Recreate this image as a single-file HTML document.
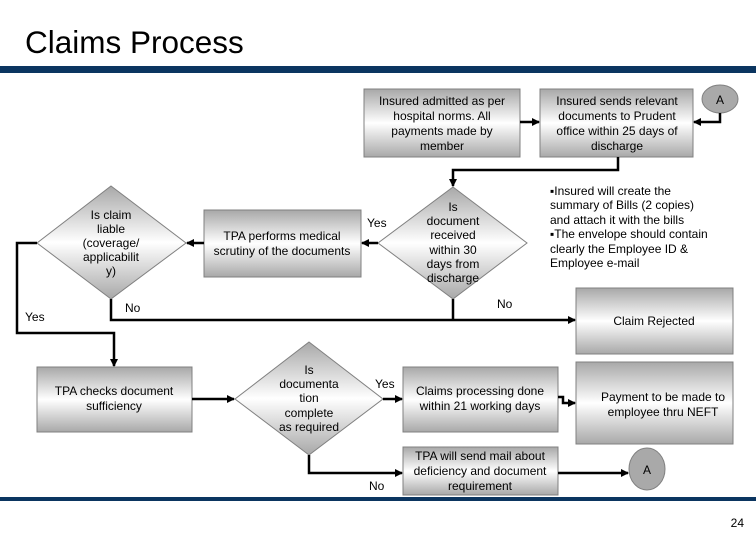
<!DOCTYPE html>
<html><head><meta charset="utf-8"><style>
body{margin:0;background:#fff}
svg{display:block}
text{font-family:"Liberation Sans",Arial,sans-serif;font-size:12px;fill:#000}
</style></head><body>
<svg width="756" height="540" viewBox="0 0 756 540" xmlns="http://www.w3.org/2000/svg">
<defs>
<linearGradient id="g" x1="0" y1="0" x2="0" y2="1">
<stop offset="0" stop-color="#a8a8a8"/><stop offset="0.5" stop-color="#ffffff"/><stop offset="1" stop-color="#a8a8a8"/>
</linearGradient>
<marker id="ah" markerWidth="8" markerHeight="8" refX="7" refY="4" orient="auto" markerUnits="userSpaceOnUse">
<path d="M0,0 L8,4 L0,8 z" fill="#000"/></marker>
</defs>
<text x="25" y="53" style="font-size:31.5px">Claims Process</text>
<rect x="0" y="66" width="756" height="7" fill="#0b3560"/>
<rect x="0" y="497" width="756" height="4" fill="#0b3560"/>
<text x="744" y="527" text-anchor="end">24</text>

<g stroke="#808080" stroke-width="1" fill="url(#g)">
<rect x="364" y="89" width="156" height="68"/>
<rect x="540" y="89" width="153" height="68"/>
<rect x="204" y="210" width="157" height="67"/>
<rect x="576" y="288" width="157" height="66"/>
<rect x="37" y="367" width="155" height="65"/>
<rect x="403" y="367" width="155" height="65"/>
<rect x="576" y="362" width="157" height="82"/>
<rect x="403" y="447" width="155" height="48"/>
<polygon points="111,186 186,243 111,299 37,243"/>
<polygon points="453,187 527,243 453,299 378,243"/>
<polygon points="309,342 383,399 309,455 235,399"/>
</g>
<g stroke="#808080" fill="#a9a9a9">
<ellipse cx="720" cy="99" rx="18" ry="14"/>
<ellipse cx="647" cy="469" rx="18" ry="21"/>
</g>

<g stroke="#000" stroke-width="2.5" fill="none" marker-end="url(#ah)">
<path d="M520,122 H539"/>
<path d="M720,113 V122 H694"/>
<path d="M618,157 V170 H453 V186"/>
<path d="M378,243 H362"/>
<path d="M204,243 H187"/>
<path d="M37,243 H17 V333 H114 V366"/>
<path d="M111,299 V320 H575"/>
<path d="M192,399 H234"/>
<path d="M383,399 H402"/>
<path d="M558,397 H563 V403 H575"/>
<path d="M309,455 V473 H402"/>
<path d="M558,473 H628"/>
</g>
<path d="M453,299 V320" stroke="#000" stroke-width="2.5"/>

<g text-anchor="middle">
<text x="442" y="105">Insured admitted as per</text>
<text x="442" y="120">hospital norms. All</text>
<text x="442" y="135">payments made by</text>
<text x="442" y="150">member</text>
<text x="617" y="105">Insured sends relevant</text>
<text x="617" y="120">documents to Prudent</text>
<text x="617" y="135">office within 25 days of</text>
<text x="617" y="150">discharge</text>
<text x="720" y="104">A</text>
<text x="282" y="240">TPA performs medical</text>
<text x="282" y="255">scrutiny of the documents</text>
<text x="111" y="219">Is claim</text>
<text x="111" y="233">liable</text>
<text x="111" y="247">(coverage/</text>
<text x="111" y="261">applicabilit</text>
<text x="111" y="275">y)</text>
<text x="453" y="211">Is</text>
<text x="453" y="225">document</text>
<text x="453" y="239">received</text>
<text x="453" y="254">within 30</text>
<text x="453" y="268">days from</text>
<text x="453" y="282">discharge</text>
<text x="654" y="325">Claim Rejected</text>
<text x="114" y="395">TPA checks document</text>
<text x="114" y="410">sufficiency</text>
<text x="309" y="374">Is</text>
<text x="309" y="388">documenta</text>
<text x="309" y="402">tion</text>
<text x="309" y="417">complete</text>
<text x="309" y="431">as required</text>
<text x="480" y="395">Claims processing done</text>
<text x="480" y="410">within 21  working days</text>
<text x="663" y="401">Payment to be made to</text>
<text x="663" y="416">employee thru NEFT</text>
<text x="480" y="460">TPA will send mail about</text>
<text x="480" y="475">deficiency and document</text>
<text x="480" y="490">requirement</text>
<text x="647" y="474">A</text>
</g>
<text x="367" y="227">Yes</text>
<text x="125" y="312">No</text>
<text x="497" y="308">No</text>
<text x="25" y="321">Yes</text>
<text x="375" y="388">Yes</text>
<text x="369" y="490">No</text>
<text x="550" y="195">▪Insured will create the</text>
<text x="550" y="209">summary of Bills (2 copies)</text>
<text x="550" y="224">and attach it with the bills</text>
<text x="550" y="238">▪The envelope should contain</text>
<text x="550" y="253">clearly the Employee ID &amp;</text>
<text x="550" y="267">Employee e-mail</text>
</svg>
</body></html>
